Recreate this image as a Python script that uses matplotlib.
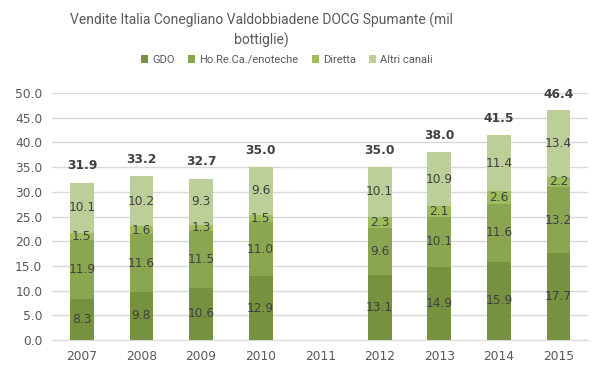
import numpy as np
import matplotlib
matplotlib.use("Agg")
import matplotlib.pyplot as plt

# dati (milioni di bottiglie)
anni = ["2007", "2008", "2009", "2010", "2011", "2012", "2013", "2014", "2015"]
gdo = [8.3, 9.8, 10.6, 12.9, np.nan, 13.1, 14.9, 15.9, 17.7]
horeca = [11.9, 11.6, 11.5, 11.0, np.nan, 9.6, 10.1, 11.6, 13.2]
diretta = [1.5, 1.6, 1.3, 1.5, np.nan, 2.3, 2.1, 2.6, 2.2]
altri = [10.1, 10.2, 9.3, 9.6, np.nan, 10.1, 10.9, 11.4, 13.4]
totali = [31.9, 33.2, 32.7, 35.0, np.nan, 35.0, 38.0, 41.5, 46.4]

serie = [("GDO", gdo, "#76913f"),
         ("Ho.Re.Ca./enoteche", horeca, "#8ba651"),
         ("Diretta", diretta, "#9fbc5e"),
         ("Altri canali", altri, "#bccf98")]

plt.rcParams['font.family'] = ['Roboto', 'DejaVu Sans']
numfont = "DejaVu Sans"

fig = plt.figure(figsize=(5.99, 3.78), dpi=100)
ax = fig.add_axes([0.087, 0.1, 0.895, 0.654])

x = np.arange(len(anni))
base = np.zeros(len(anni))
for nome, vals, col in serie:
    v = np.array(vals, dtype=float)
    ax.bar(x, np.nan_to_num(v), 0.4, bottom=base, color=col, label=nome, zorder=2)
    for i in range(len(x)):
        if not np.isnan(v[i]):
            ax.text(x[i], base[i] + v[i] / 2, f"{v[i]:.1f}", ha="center", va="center",
                    fontsize=8.8, color="#404040", family=numfont, zorder=3)
    base = base + np.nan_to_num(v)

for i, t in enumerate(totali):
    if not np.isnan(t):
        ax.annotate(f"{t:.1f}", (x[i], t), xytext=(0, 12), textcoords="offset points",
                    ha="center", va="center", fontsize=8.8, fontweight="bold",
                    color="#404040", family=numfont)

ax.set_xlim(-0.5, 8.5)
ax.set_ylim(0, 50)
ax.set_yticks(np.arange(0, 51, 5))
ax.set_yticklabels([f"{v:.1f}" for v in np.arange(0, 51, 5)], family=numfont)
ax.set_xticks(x)
ax.set_xticklabels(anni, family=numfont)
ax.tick_params(axis="both", length=0, labelsize=8.8, colors="#595959", pad=7)
ax.yaxis.grid(True, color="#d9d9d9", linewidth=1, zorder=0)
for s in ["top", "right", "left"]:
    ax.spines[s].set_visible(False)
ax.spines["bottom"].set_color("#d9d9d9")

fig.text(0.437, 0.947, "Vendite Italia Conegliano Valdobbiadene DOCG Spumante (mil", ha="center",
         va="center", fontsize=10.0, color="#595959")
fig.text(0.437, 0.893, "bottiglie)", ha="center", va="center", fontsize=10.0, color="#595959")

fig.legend(loc="center", bbox_to_anchor=(0.479, 0.842), ncol=4, frameon=False, fontsize=8.0,
           handlelength=0.65, handleheight=0.65, handletextpad=0.35, columnspacing=1.2,
           labelcolor="#595959")

fig.savefig("out.png", dpi=100)
